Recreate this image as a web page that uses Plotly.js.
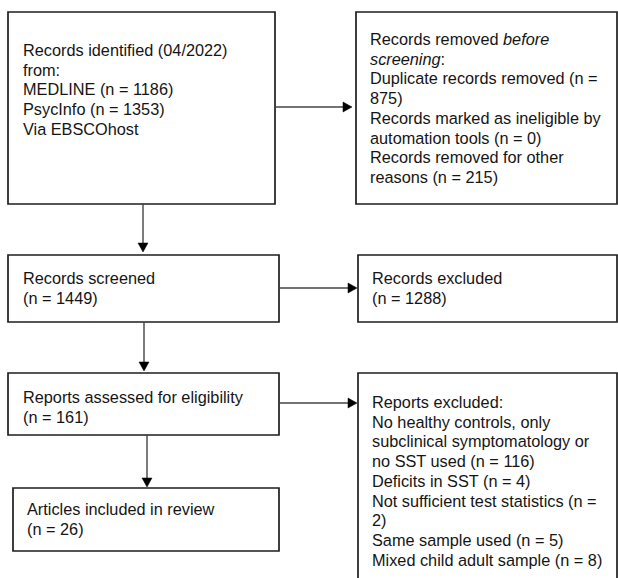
<!DOCTYPE html>
<html>
<head>
<meta charset="utf-8">
<script src="https://cdn.plot.ly/plotly-3.0.1.min.js"></script>
<style>html,body{margin:0;padding:0;background:#fff;}#chart{width:618px;height:578px;}</style>
</head>
<body>
<div id="chart"></div>
<script>
// ---- Content (text of each box, line by line) ----
const identifiedLines = ["Records identified (04/2022)", "from:", "MEDLINE (n = 1186)", "PsycInfo (n = 1353)", "Via EBSCOhost"];
const removedLines = ["Records removed <i>before</i>", "<i>screening</i>:", "Duplicate records removed (n =", "875)", "Records marked as ineligible by", "automation tools (n = 0)", "Records removed for other", "reasons (n = 215)"];
const screenedLines = ["Records screened", "(n = 1449)"];
const excludedLines = ["Records excluded", "(n = 1288)"];
const assessedLines = ["Reports assessed for eligibility", "(n = 161)"];
const reportsExcludedLines = ["Reports excluded:", "No healthy controls, only", "subclinical symptomatology or", "no SST used (n = 116)", "Deficits in SST (n = 4)", "Not sufficient test statistics (n =", "2)", "Same sample used (n = 5)", "Mixed child adult sample (n = 8)"];
const includedLines = ["Articles included in review", "(n = 26)"];

// ---- Layout geometry (pixel space, y downward) ----
const boxes = [
  {x0: 8,   x1: 275, y0: 12,  y1: 204, tx: 21,  ty: 50,  lines: identifiedLines},
  {x0: 356, x1: 617, y0: 12,  y1: 204, tx: 368, ty: 39,  lines: removedLines},
  {x0: 8,   x1: 279, y0: 255, y1: 322, tx: 21,  ty: 278, lines: screenedLines},
  {x0: 358, x1: 617, y0: 255, y1: 322, tx: 370, ty: 278, lines: excludedLines},
  {x0: 8,   x1: 279, y0: 373, y1: 435, tx: 21,  ty: 397, lines: assessedLines},
  {x0: 358, x1: 617, y0: 373, y1: 600, tx: 370, ty: 402, lines: reportsExcludedLines},
  {x0: 13,  x1: 279, y0: 488, y1: 551, tx: 25,  ty: 509, lines: includedLines}
];
const connectors = [
  {dir: 'h', from: 275, to: 352, at: 107},
  {dir: 'v', from: 204, to: 252, at: 143},
  {dir: 'h', from: 279, to: 357, at: 288},
  {dir: 'v', from: 322, to: 371, at: 144},
  {dir: 'h', from: 279, to: 357, at: 403},
  {dir: 'v', from: 435, to: 487, at: 147}
];

const LINE_GAP = 19.7;
const shapes = [];
const annotations = [];

boxes.forEach(b => {
  shapes.push({type: 'rect', xref: 'x', yref: 'y', x0: b.x0, x1: b.x1, y0: b.y0, y1: b.y1,
    line: {color: '#1e1e1e', width: 1.7}, fillcolor: 'rgba(0,0,0,0)'});
  b.lines.forEach((t, i) => {
    annotations.push({xref: 'x', yref: 'y', x: b.tx, y: b.ty + i * LINE_GAP, text: t,
      showarrow: false, xanchor: 'left', yanchor: 'middle', align: 'left',
      font: {family: 'Arial, "Liberation Sans", sans-serif', size: 16.3, color: '#151515'}});
  });
});

const HL = 9, HW = 5;
connectors.forEach(c => {
  if (c.dir === 'h') {
    shapes.push({type: 'line', xref: 'x', yref: 'y', x0: c.from, x1: c.to - HL, y0: c.at, y1: c.at,
      line: {color: '#444', width: 1.4}});
    shapes.push({type: 'path', xref: 'x', yref: 'y',
      path: `M ${c.to - HL} ${c.at - HW} L ${c.to} ${c.at} L ${c.to - HL} ${c.at + HW} Z`,
      fillcolor: '#000', line: {color: '#000', width: 0.5}});
  } else {
    shapes.push({type: 'line', xref: 'x', yref: 'y', x0: c.at, x1: c.at, y0: c.from, y1: c.to - HL,
      line: {color: '#444', width: 1.4}});
    shapes.push({type: 'path', xref: 'x', yref: 'y',
      path: `M ${c.at - HW} ${c.to - HL} L ${c.at} ${c.to} L ${c.at + HW} ${c.to - HL} Z`,
      fillcolor: '#000', line: {color: '#000', width: 0.5}});
  }
});

const layout = {
  width: 618, height: 578,
  margin: {l: 0, r: 0, t: 0, b: 0},
  paper_bgcolor: '#fff', plot_bgcolor: '#fff',
  showlegend: false,
  xaxis: {range: [0, 618], visible: false, fixedrange: true},
  yaxis: {range: [578, 0], visible: false, fixedrange: true},
  shapes: shapes,
  annotations: annotations
};

Plotly.newPlot('chart', [], layout, {staticPlot: true, displayModeBar: false});
</script>
</body>
</html>
